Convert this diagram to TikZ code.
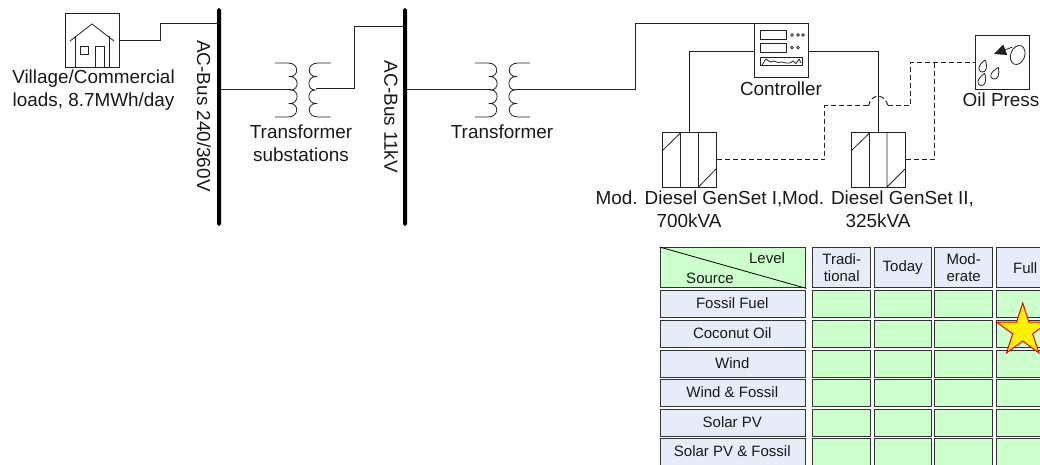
\documentclass[tikz,border=0pt]{standalone}
\usepackage{fontspec}
\setmainfont{Liberation Sans}
\usetikzlibrary{shapes.geometric,arrows.meta}
\definecolor{cellgreen}{HTML}{CCFFCC}
\definecolor{cellblue}{HTML}{E6ECF8}
\definecolor{wirec}{HTML}{222222}
\tikzset{
  lab/.style={inner sep=0pt,align=center,text=black!90,font=\fontsize{18.9}{23}\selectfont},
  tlab/.style={inner sep=0pt,align=center,text=black!90,font=\fontsize{15}{17.5}\selectfont},
  wire/.style={draw=wirec,line width=1pt},
  dash wire/.style={draw=wirec,line width=1pt,dash pattern=on 5pt off 3pt},
  symbox/.style={draw=wirec,line width=1pt,fill=white,rectangle,inner sep=0pt,minimum width=54pt,minimum height=54pt},
  busbar/.style={fill=black,rectangle,rounded corners=1.8pt,inner sep=0pt,minimum width=4pt},
  thin detail/.style={draw=wirec,line width=.8pt},
  cell/.style={draw=black!80,line width=1.4pt,rectangle,inner sep=0pt,anchor=north west},
  greencell/.style={cell,fill=cellgreen},
  bluecell/.style={cell,fill=cellblue},
}
\newcommand{\coilL}[4]{%
  \draw[thin detail] (#2,#3) -- (#1-9,#3)
    .. controls (#1+2.3,#3) and (#1+2.3,#3+13.5) .. (#1-7,#3+13.5)
    .. controls (#1+2.3,#3+13.5) and (#1+2.3,#3+27) .. (#1-6,#3+27)
    .. controls (#1+2.3,#3+27) and (#1+2.3,#3+40.5) .. (#1-7,#3+40.5)
    .. controls (#1+2.3,#3+40.5) and (#1+2.3,#4) .. (#1-9,#4) -- (#2,#4);}
\newcommand{\coilR}[4]{%
  \draw[thin detail] (#2,#3) -- (#1+9,#3)
    .. controls (#1-2.3,#3) and (#1-2.3,#3+13.5) .. (#1+7,#3+13.5)
    .. controls (#1-2.3,#3+13.5) and (#1-2.3,#3+27) .. (#1+6,#3+27)
    .. controls (#1-2.3,#3+27) and (#1-2.3,#3+40.5) .. (#1+7,#3+40.5)
    .. controls (#1-2.3,#3+40.5) and (#1-2.3,#4) .. (#1+9,#4) -- (#2,#4);}
\newcommand{\drop}[4]{%
  \draw[thin detail] (#1,#2) .. controls (#3+6.5,#4-1) and (#3+4.5,#4+5.5) .. (#3,#4+4.5)
    .. controls (#3-4.5,#4+3.5) and (#3-4,#4-2) .. (#1,#2);}
\begin{document}
\begin{tikzpicture}[x=1pt,y=-1pt]
\useasboundingbox (0,0) rectangle (1040,465);

% buses
\node[busbar,minimum height=218pt] (bus1) at (219,117) {};
\node[busbar,minimum height=218pt] (bus2) at (405,117) {};
\node[lab,rotate=-90] (bus1lab) at (204,116) {AC-Bus 240/360V};
\node[lab,rotate=-90] (bus2lab) at (391,117) {AC-Bus 11kV};

% house
\node[symbox] (house) at (92,41) {};
\draw[thin detail] (70,41) -- (92,24) -- (114,41);
\draw[thin detail] (75.7,36) -- (75.7,68) (109,36) -- (109,68);
\draw[thin detail] (80.7,46) rectangle (88,54);
\draw[thin detail] (95.7,68) -- (95.7,46) -- (104,46) -- (104,68);
\node[lab] (houselab) at (93.5,90.5) {Village/Commercial\\loads, 8.7MWh/day};
\coordinate (h1) at (160,40.5);
\coordinate (h2) at (160,24);
\draw[wire] (house.east |- h1) -- (h1) -- (h2) -- (bus1.west |- h2);

% transformer 1
\coilL{297}{275}{63}{117}
\coilR{309}{330.5}{63}{117}
\coordinate (t1l) at (291,90);
\coordinate (t1r) at (316,89);
\coordinate (t1a) at (354,89);
\coordinate (t1b) at (354,27);
\draw[wire] (bus1.east |- t1l) -- (t1l);
\draw[wire] (t1r) -- (t1a) -- (t1b) -- (bus2.west |- t1b);
\node[lab] (t1lab) at (301,143.5) {Transformer\\substations};

% transformer 2
\coilL{497}{475}{63}{117}
\coilR{509}{530}{63}{117}
\coordinate (t2l) at (491,90);
\coordinate (t2r) at (515,90);
\coordinate (t2a) at (635,90);
\coordinate (t2b) at (635,24);
\draw[wire] (bus2.east |- t2l) -- (t2l);
\draw[wire] (t2r) -- (t2a) -- (t2b) -- (781,24);
\node[lab] (t2lab) at (502,131.5) {Transformer};

% controller
\node[symbox] (ctrl) at (781,51) {};
\draw[thin detail] (760.7,30) rectangle (786.5,39);
\draw[thin detail] (760.7,43) rectangle (786.5,52);
\draw[thin detail] (760.7,57) rectangle (802,65);
\foreach \cx in {792,798,803} \draw[thin detail,line width=.7pt] (\cx,35) circle (1.4);
\foreach \cx in {792,798} \draw[thin detail,line width=.7pt] (\cx,47.5) circle (1.4);
\draw[thin detail] (762,65) -- (766,59) -- (770,62) -- (774,61) -- (778,62.5) -- (782,62) -- (786,63) -- (790,63) -- (793,61) -- (796,63.5) -- (799,59) -- (801,63);
\node[lab] (ctrllab) at (781,89) {Controller};

% gensets
\node[symbox] (g1) at (689,160) {};
\draw[thin detail,wirec] (680.5,133) -- (680.5,187) (698.5,133) -- (698.5,187)
  (662,151) -- (680.5,133) (698.5,187) -- (716,169);
\node[symbox] (g2) at (878,160) {};
\draw[thin detail,wirec] (869.5,133) -- (869.5,187) (887,133) -- (887,187)
  (851,151) -- (869.5,133) (887,187) -- (905,169);
\coordinate (c1) at (689,52);
\coordinate (c2) at (878,52);
\draw[wire] (ctrl.west |- c1) -- (c1) -- (g1.north);
\draw[wire] (ctrl.east |- c2) -- (c2) -- (g2.north);
\node[lab] (g1lab) at (689,209.5) {Mod. Diesel GenSet I,\\700kVA};
\node[lab] (g2lab) at (878,209.5) {Mod. Diesel GenSet II,\\325kVA};

% oil press
\node[symbox] (oil) at (1002,63) {};
\draw[thin detail,rotate around={-20:(1017.7,55)}] (1017.7,55) ellipse (7pt and 9.8pt);
\draw[thin detail,-{Triangle[length=12pt,width=11pt]}] (1012.5,47) -- (994,54);
\drop{985}{60}{981.7}{67.5}
\drop{998.3}{67.3}{993.5}{74.5}
\drop{984.5}{73.3}{980.7}{81}
\node[lab] (oillab) at (1001,100) {Oil Press};

% fuel lines
\coordinate (d1) at (824.5,160);
\coordinate (d2) at (824.5,106);
\coordinate (d3) at (868.5,106);
\coordinate (d4) at (888,106);
\coordinate (d5) at (910,106);
\coordinate (d6) at (910,62.5);
\coordinate (d7) at (934,160);
\coordinate (d8) at (934,62.5);
\draw[dash wire] (g1.east) -- (d1) -- (d2) -- (d3);
\draw[dash wire] (d3) .. controls (871,93) and (885,93) .. (d4);
\draw[dash wire] (d4) -- (d5) -- (d6) -- (oil.west |- d6);
\draw[dash wire] (g2.east) -- (d7) -- (d8);

% table header
\node[cell,fill=cellgreen,minimum width=145.5pt,minimum height=40pt] (hd) at (659.5,247) {};
\draw[thin detail,black] (hd.north west) -- (hd.south east);
\node[tlab] (hlevel) at (767,258) {Level};
\node[tlab] (hsource) at (710,278) {Source};
\foreach \nm/\xa/\colw/\txt in {a/812/58/{Tradi-\\tional},b/873.5/57/Today,c/934/58/{Mod-\\erate},d/995.5/58/Full}{
  \node[cell,fill=cellblue,minimum width=\colw pt,minimum height=40pt] (h\nm) at (\xa,247) {};
  \node[tlab] (h\nm t) at (h\nm.center) {\txt};
}
\foreach \rw/\ya/\rowh/\txt in {1/290/27/Fossil Fuel,2/320/27/Coconut Oil,3/349.5/27/Wind,4/379/27/Wind \& Fossil,5/409/27/Solar PV,6/438/30/Solar PV \& Fossil}{
  \node[bluecell,minimum width=145.5pt,minimum height=\rowh pt] (s\rw) at (659.5,\ya) {};
  \node[tlab] (s\rw t) at (732.25,\ya+13.5) {\txt};
  \foreach \nm/\xa/\colw in {a/812/58,b/873.5/57,c/934/58,d/995.5/58}{
    \node[greencell,minimum width=\colw pt,minimum height=\rowh pt] (\nm\rw) at (\xa,\ya) {};
  }
}
% star
\node[star,star points=5,star point ratio=2.618,draw=red!90!black,fill=yellow,line width=1pt,inner sep=0pt,minimum size=55pt] (mark1) at (1022.7,330.6) {};
\end{tikzpicture}
\end{document}
